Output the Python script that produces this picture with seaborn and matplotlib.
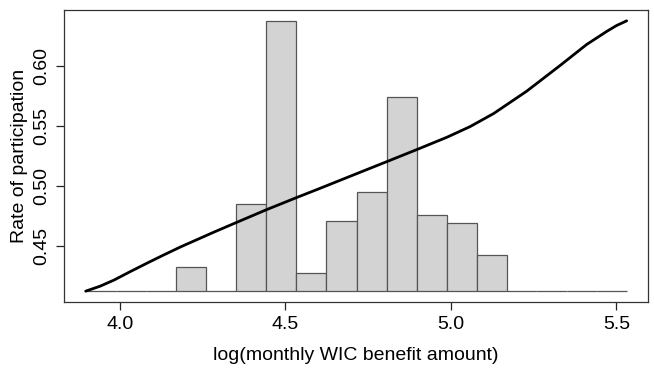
import numpy as np
import pandas as pd
import matplotlib
matplotlib.use("Agg")
import matplotlib.pyplot as plt
import seaborn as sns

# ================================
# Datos
# ================================
# Bordes de los bins del histograma (log del beneficio mensual WIC)
bin_start = 3.897
bin_width = 0.0909
n_bins = 18
# Altura de cada barra (en la escala de "Rate of participation")
bar_tops = [0.4119, 0.4119, 0.4119, 0.4322, 0.4119, 0.4850, 0.6378, 0.4272, 0.4708,
            0.4947, 0.5742, 0.4756, 0.4692, 0.4419, 0.4119, 0.4119, 0.4119, 0.4119]
bar_base = 0.4119

# Curva ajustada de la tasa de participación
curve_x = [3.897, 3.940, 3.982, 4.030, 4.083, 4.133, 4.183, 4.284, 4.354, 4.445,
           4.533, 4.600, 4.656, 4.730, 4.807, 4.897, 4.988, 5.058, 5.129, 5.229,
           5.330, 5.410, 5.471, 5.500, 5.531]
curve_y = [0.4119, 0.4160, 0.4211, 0.4280, 0.4354, 0.4422, 0.4488, 0.4612, 0.4695, 0.4802,
           0.4900, 0.4973, 0.5035, 0.5117, 0.5202, 0.5302, 0.5405, 0.5494, 0.5603, 0.5790,
           0.6005, 0.6180, 0.6290, 0.6338, 0.6378]

x_ticks = [4.0, 4.5, 5.0, 5.5]
y_ticks = [0.45, 0.50, 0.55, 0.60]

# ================================
# Estilo
# ================================
sns.set_style("ticks")
plt.rcParams['font.family'] = ['Liberation Sans', 'DejaVu Sans']
plt.rcParams['text.color'] = 'black'
plt.rcParams['axes.labelcolor'] = 'black'
plt.rcParams['xtick.color'] = 'black'
plt.rcParams['ytick.color'] = 'black'

fig = plt.figure(figsize=(6.54, 3.75), dpi=100)
ax = fig.add_axes([0.0979, 0.1947, 0.8934, 0.7786])

# Histograma (barras con base en el mínimo de la curva)
edges = bin_start + bin_width * np.arange(n_bins)
heights = np.array(bar_tops) - bar_base
ax.bar(edges, heights, width=bin_width, bottom=bar_base, align='edge',
       color='#d3d3d3', edgecolor='#555555', linewidth=0.9, zorder=2)

# Curva
df_curve = pd.DataFrame({'x': curve_x, 'y': curve_y})
sns.lineplot(data=df_curve, x='x', y='y', color='black', linewidth=2.0, ax=ax, zorder=3)

# Límites estilo R (extensión del 4%)
xr = curve_x[-1] - curve_x[0]
yr = curve_y[-1] - bar_base
ax.set_xlim(curve_x[0] - 0.04 * xr, curve_x[-1] + 0.04 * xr)
ax.set_ylim(bar_base - 0.04 * yr, curve_y[-1] + 0.04 * yr)

ax.set_xticks(x_ticks)
ax.set_xticklabels([f"{v:.1f}" for v in x_ticks])
ax.set_yticks(y_ticks)
ax.set_yticklabels([f"{v:.2f}" for v in y_ticks], rotation=90, va='center')

ax.tick_params(axis='both', labelsize=14, length=6, width=0.9, color='#222222',
               labelcolor='black', pad=4)
for sp in ax.spines.values():
    sp.set_color('#333333')
    sp.set_linewidth(0.9)

ax.set_xlabel('log(monthly WIC benefit amount)', fontsize=14, labelpad=10, color='black')
ax.set_ylabel('Rate of participation', fontsize=14, labelpad=4, color='black')

fig.savefig('out.png', dpi=100)
